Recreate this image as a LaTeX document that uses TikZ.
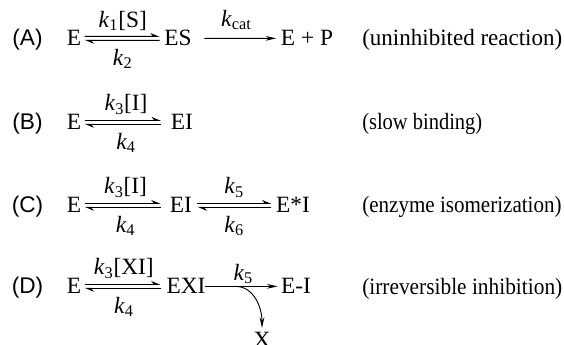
\documentclass[tikz,border=0pt]{standalone}
\usepackage{fontspec}
\usepackage{graphicx}
\setmainfont{Liberation Serif}
\newfontfamily\labelfont{Liberation Sans}
\usetikzlibrary{arrows.meta}
\newcommand{\kr}[1]{\textit{k}\textsubscript{#1}}
\newcommand{\notetext}[2]{\resizebox{#1}{\height}{#2}}
\tikzset{
  species/.style={anchor=base},
  casename/.style={anchor=base,font=\labelfont\fontsize{17}{20}\selectfont},
  note/.style={anchor=base west,inner sep=0pt},
  rate/.style={inner sep=4pt},
  fwd/.style={line width=0.8pt,-{Stealth[harpoon,length=6pt,width=5pt]}},
  rxn/.style={line width=0.7pt,-{Stealth[length=8pt,width=3.5pt]}}
}
\begin{document}
\begin{tikzpicture}[x=0.75pt,y=-0.75pt,font=\fontsize{17.5}{21}\selectfont]
  \useasboundingbox (0,0) rectangle (564,345);
  % (A)
  \node (labA) at (27.5,46) [casename] {(A)};
  \node (eA) at (74,46) [species] {E};
  \node (esA) at (178,46) [species] {ES};
  \node (epA) at (307,46) [species] {E + P};
  \node (noteA) at (362,46) [note] {\notetext{150pt}{(uninhibited reaction)}};
  \draw [fwd,shorten <=-1pt] ([yshift=1.5pt]eA.east) -- ([yshift=1.5pt]esA.west) node[midway,above,rate] {\kr{1}[S]};
  \draw [fwd,shorten >=-1pt] ([yshift=-1.5pt]esA.west) -- ([yshift=-1.5pt]eA.east) node[midway,below,inner sep=6pt] {\kr{2}};
  \draw [rxn,shorten <=6pt] (esA) -- (epA) node[midway,above,inner sep=6pt] {\kr{cat}};
  % (B)
  \node (labB) at (27.5,130) [casename] {(B)};
  \node (eB) at (74,130) [species] {E};
  \node (eiB) at (182,130) [species] {EI};
  \node (noteB) at (362,130) [note] {\notetext{90pt}{(slow binding)}};
  \draw [fwd,shorten <=-1pt,shorten >=4pt] ([yshift=1.5pt]eB.east) -- ([yshift=1.5pt]eiB.west) node[midway,above,rate] {\kr{3}[I]};
  \draw [fwd,shorten >=-1pt,shorten <=4pt] ([yshift=-1.5pt]eiB.west) -- ([yshift=-1.5pt]eB.east) node[midway,below,inner sep=6pt] {\kr{4}};
  % (C)
  \node (labC) at (27.5,213) [casename] {(C)};
  \node (eC) at (74,213) [species] {E};
  \node (eiC) at (181,213) [species] {EI};
  \node (estarC) at (293,213) [species] {E*I};
  \node (noteC) at (362,213) [note] {\notetext{149.5pt}{(enzyme isomerization)}};
  \draw [fwd,shorten <=-1pt,shorten >=3.5pt] ([yshift=1.5pt]eC.east) -- ([yshift=1.5pt]eiC.west) node[midway,above,rate] {\kr{3}[I]};
  \draw [fwd,shorten >=-1pt,shorten <=3.5pt] ([yshift=-1.5pt]eiC.west) -- ([yshift=-1.5pt]eC.east) node[midway,below,inner sep=6pt] {\kr{4}};
  \draw [fwd,shorten <=0.5pt] ([yshift=1.5pt]eiC.east) -- ([yshift=1.5pt]estarC.west) node[midway,above,rate] {\kr{5}};
  \draw [fwd,shorten >=0.5pt] ([yshift=-1.5pt]estarC.west) -- ([yshift=-1.5pt]eiC.east) node[midway,below,inner sep=6pt] {\kr{6}};
  % (D)
  \node (labD) at (27.5,294) [casename] {(D)};
  \node (eD) at (74,294) [species] {E};
  \node (exiD) at (186,294) [species] {EXI};
  \node (eiD) at (296,294) [species] {E-I};
  \node (noteD) at (362,294) [note] {\notetext{150pt}{(irreversible inhibition)}};
  \node (xD) at (262,348) [species] {X};
  \draw [fwd,shorten <=-1pt,shorten >=1pt] ([yshift=1.5pt]eD.east) -- ([yshift=1.5pt]exiD.west) node[midway,above,rate] {\kr{3}[XI]};
  \draw [fwd,shorten >=-1pt,shorten <=1pt] ([yshift=-1.5pt]exiD.west) -- ([yshift=-1.5pt]eD.east) node[midway,below,inner sep=6pt] {\kr{4}};
  \draw [rxn,shorten <=-3.5pt,shorten >=-1pt] (exiD) -- coordinate[pos=0.38] (brD) (eiD) node[midway,above,inner sep=1.5pt] {\kr{5}};
  \draw [rxn] (brD) to[out=0,in=90] (xD.north);
\end{tikzpicture}
\end{document}
